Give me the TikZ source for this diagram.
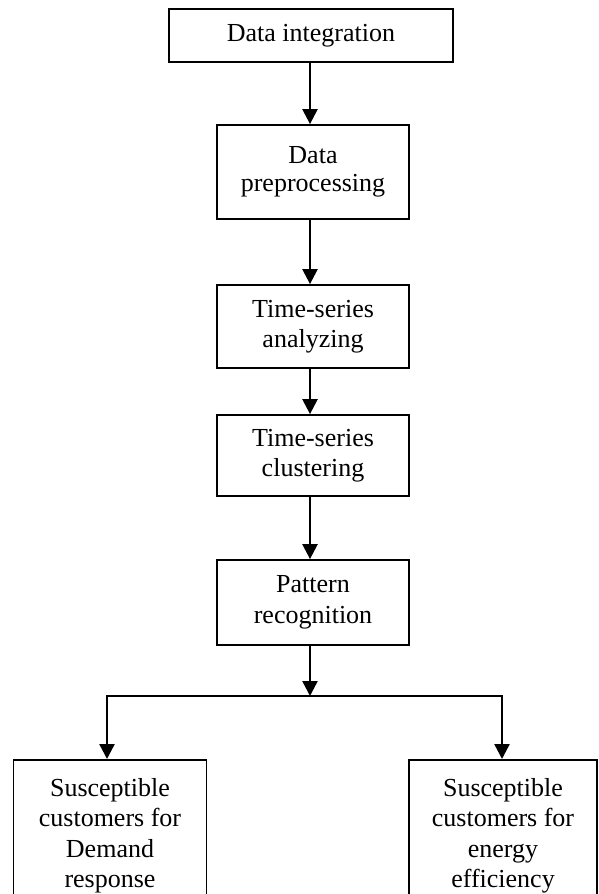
\documentclass[tikz,border=0pt]{standalone}
\usepackage{fontspec}
\setmainfont{Liberation Serif}
\usetikzlibrary{arrows.meta}
\begin{document}
\begin{tikzpicture}[x=1pt,y=-1pt,
  box/.style={draw, line width=1.8pt, align=center, inner sep=0pt,
    font=\fontsize{26}{30.5}\selectfont},
  arr/.style={line width=2.4pt, -{Triangle[length=15pt,width=15pt]}}]
\useasboundingbox (0,0) rectangle (599,894);
\clip (0,0) rectangle (599,894);
\node[box, minimum width=284pt, minimum height=53pt] (b1) at (311,35.5) {Data integration};
\node[box, minimum width=192pt, minimum height=94pt, font=\fontsize{26}{28}\selectfont] (b2) at (313,172) {Data\\preprocessing};
\node[box, minimum width=192pt, minimum height=83pt] (b3) at (313,326.5) {Time-series\\analyzing};
\node[box, minimum width=192pt, minimum height=81pt] (b4) at (313,455.5) {Time-series\\clustering};
\node[box, minimum width=192pt, minimum height=85pt] (b5) at (313,602.5) {Pattern\\recognition};
\node[box, minimum width=193pt, minimum height=152pt, anchor=north] (L) at (110,759) {Susceptible\\customers for\\Demand\\response};
\node[box, minimum width=188pt, minimum height=152pt, anchor=north] (R) at (503,759) {Susceptible\\customers for\\energy\\efficiency};
\coordinate (sp) at (310,696);
\draw[arr] ([xshift=-1pt]b1.south) -- ([xshift=-3pt]b2.north);
\draw[arr] ([xshift=-3pt]b2.south) -- ([xshift=-3pt]b3.north);
\draw[arr] ([xshift=-3pt]b3.south) -- ([xshift=-3pt]b4.north);
\draw[arr] ([xshift=-3pt]b4.south) -- ([xshift=-3pt]b5.north);
\draw[arr] ([xshift=-3pt]b5.south) -- (sp);
\draw[arr] (sp) -| ([xshift=-3pt]L.north);
\draw[arr] (sp) -| ([xshift=-1pt]R.north);
\end{tikzpicture}
\end{document}
